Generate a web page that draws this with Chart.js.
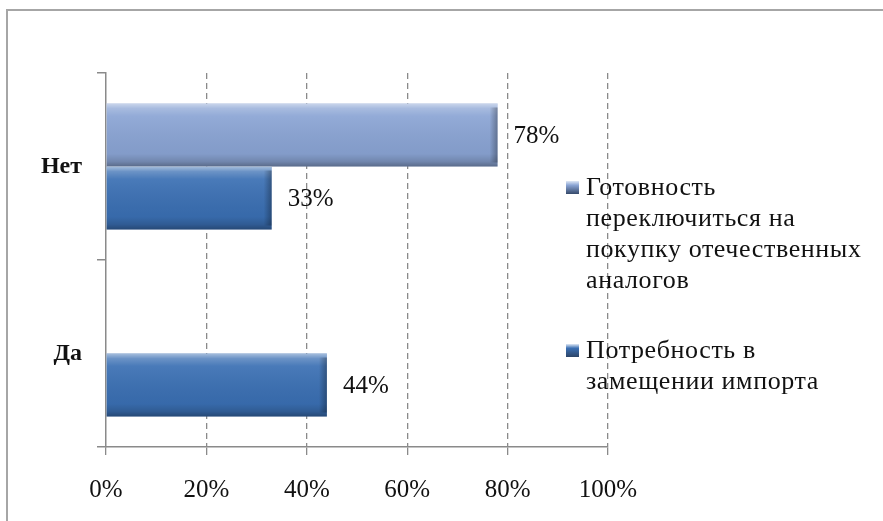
<!DOCTYPE html>
<html lang="ru">
  <head>
    <meta charset="utf-8" />
    <title>Импортозамещение</title>
    <style>
      * { margin: 0; padding: 0; box-sizing: border-box; }
      body { background: #ffffff; width: 883px; height: 521px; overflow: hidden; }
      #chart { display: block; }
    </style>
  </head>
  <body>
    <canvas id="chart" width="883" height="521"></canvas>
    <script src="https://cdn.jsdelivr.net/npm/chart.js@4.4.1/dist/chart.umd.min.js"></script>
    <script>
      // Categories (top to bottom)
      const categories = ["Нет", "Да"];

      // Series values, %
      const readiness = [78, null];
      const need = [33, 44];

      // Legend text, already split into lines
      const readinessLabel = ["Готовность", "переключиться на", "покупку отечественных", "аналогов"];
      const needLabel = ["Потребность в", "замещении импорта"];

      const xTicks = [0, 20, 40, 60, 80, 100];

      const colors = ["#8aa4d4", "#3a6fb3"];
      const font = "'Liberation Serif', 'Times New Roman', serif";

      // outer frame like the office chart border
      const framePlugin = {
        id: "frame",
        beforeDraw(chart) {
          const ctx = chart.ctx;
          ctx.save();
          ctx.fillStyle = "#ffffff";
          ctx.fillRect(0, 0, chart.width, chart.height);
          ctx.strokeStyle = "#a6a6a6";
          ctx.lineWidth = 2;
          ctx.strokeRect(7, 10, chart.width + 20, chart.height + 20);
          ctx.restore();
        },
      };

      // bevel look on top of each bar
      const bevelPlugin = {
        id: "bevel",
        afterDatasetsDraw(chart) {
          const ctx = chart.ctx;
          chart.data.datasets.forEach((ds, i) => {
            chart.getDatasetMeta(i).data.forEach((bar, j) => {
              if (ds.data[j] == null) return;
              const p = bar.getProps(["x", "y", "base", "height"], true);
              const top = p.y - p.height / 2;
              const left = p.base;
              const w = p.x - p.base;
              const h = p.height;
              ctx.save();
              const g = ctx.createLinearGradient(0, top, 0, top + h);
              g.addColorStop(0, "rgba(255,255,255,0.55)");
              g.addColorStop(0.08, "rgba(255,255,255,0.25)");
              g.addColorStop(0.2, "rgba(255,255,255,0.08)");
              g.addColorStop(0.8, "rgba(0,0,0,0.05)");
              g.addColorStop(0.92, "rgba(0,0,0,0.18)");
              g.addColorStop(1, "rgba(0,0,0,0.35)");
              ctx.fillStyle = g;
              ctx.fillRect(left, top, w, h);
              // darker right edge
              const gr = ctx.createLinearGradient(left + w - 8, 0, left + w, 0);
              gr.addColorStop(0, "rgba(0,0,0,0)");
              gr.addColorStop(1, "rgba(0,0,0,0.3)");
              ctx.fillStyle = gr;
              ctx.fillRect(left + w - 8, top + 4, 8, h - 8);
              ctx.restore();
            });
          });
        },
      };

      // value labels next to bar ends
      const valueLabels = {
        id: "valueLabels",
        afterDatasetsDraw(chart) {
          const ctx = chart.ctx;
          ctx.save();
          ctx.font = "25px " + font;
          ctx.fillStyle = "#111111";
          ctx.textAlign = "left";
          ctx.textBaseline = "middle";
          chart.data.datasets.forEach((ds, i) => {
            chart.getDatasetMeta(i).data.forEach((bar, j) => {
              const v = ds.data[j];
              if (v == null) return;
              ctx.fillText(v + "%", bar.x + 16, bar.y + 1);
            });
          });
          ctx.restore();
        },
      };

      // legend with wrapped text, drawn over the right part
      const legendPlugin = {
        id: "wrapLegend",
        afterDraw(chart) {
          const ctx = chart.ctx;
          const entries = [
            { lines: readinessLabel, color: colors[0], y: 188 },
            { lines: needLabel, color: colors[1], y: 351 },
          ];
          ctx.save();
          ctx.font = "26px " + font;
          ctx.letterSpacing = "0.6px";
          ctx.textBaseline = "middle";
          entries.forEach((e) => {
            const g = ctx.createLinearGradient(0, e.y - 7, 0, e.y + 7);
            g.addColorStop(0, "#dfe8f5");
            g.addColorStop(0.3, e.color);
            g.addColorStop(1, "#2b3f5e");
            ctx.fillStyle = g;
            ctx.fillRect(566, e.y - 7, 13, 13);
            ctx.fillStyle = "#111111";
            e.lines.forEach((t, k) => ctx.fillText(t, 586, e.y + k * 31));
          });
          ctx.restore();
        },
      };

      new Chart(document.getElementById("chart"), {
        type: "bar",
        plugins: [framePlugin, bevelPlugin, valueLabels, legendPlugin],
        data: {
          labels: categories,
          datasets: [
            {
              label: readinessLabel.join(" "),
              data: readiness,
              backgroundColor: colors[0],
              borderWidth: 0,
            },
            {
              label: needLabel.join(" "),
              data: need,
              backgroundColor: colors[1],
              borderWidth: 0,
            },
          ],
        },
        options: {
          indexAxis: "y",
          responsive: false,
          animation: false,
          categoryPercentage: 0.674,
          barPercentage: 1,
          layout: { padding: { top: 73, right: 275, left: 0, bottom: 0 } },
          plugins: {
            legend: { display: false },
            tooltip: { enabled: false },
          },
          scales: {
            x: {
              min: 0,
              max: 100,
              afterBuildTicks: (s) => { s.ticks = xTicks.map((v) => ({ value: v })); },
              afterFit: (s) => { s.height = 74; },
              grid: {
                color: (c) => (c.tick && c.tick.value === 0 ? "rgba(0,0,0,0)" : "#8a8a8a"),
                tickColor: "#8a8a8a",
                tickLength: 8,
                tickBorderDash: [],
                lineWidth: 1.3,
              },
              border: { display: true, color: "#8a8a8a", width: 1.5, dash: [6, 4] },
              ticks: {
                padding: 20,
                color: "#111111",
                font: { family: font, size: 25 },
                callback: (v) => v + "%",
              },
            },
            y: {
              afterFit: (s) => { s.width = 106; },
              grid: {
                offset: true,
                drawOnChartArea: false,
                color: "#8a8a8a",
                tickLength: 9,
                lineWidth: 1.5,
              },
              border: { display: true, color: "#8a8a8a", width: 1.5 },
              ticks: {
                padding: 15,
                color: "#111111",
                font: { family: font, size: 24, weight: "bold" },
              },
            },
          },
        },
      });
    </script>
  </body>
</html>
